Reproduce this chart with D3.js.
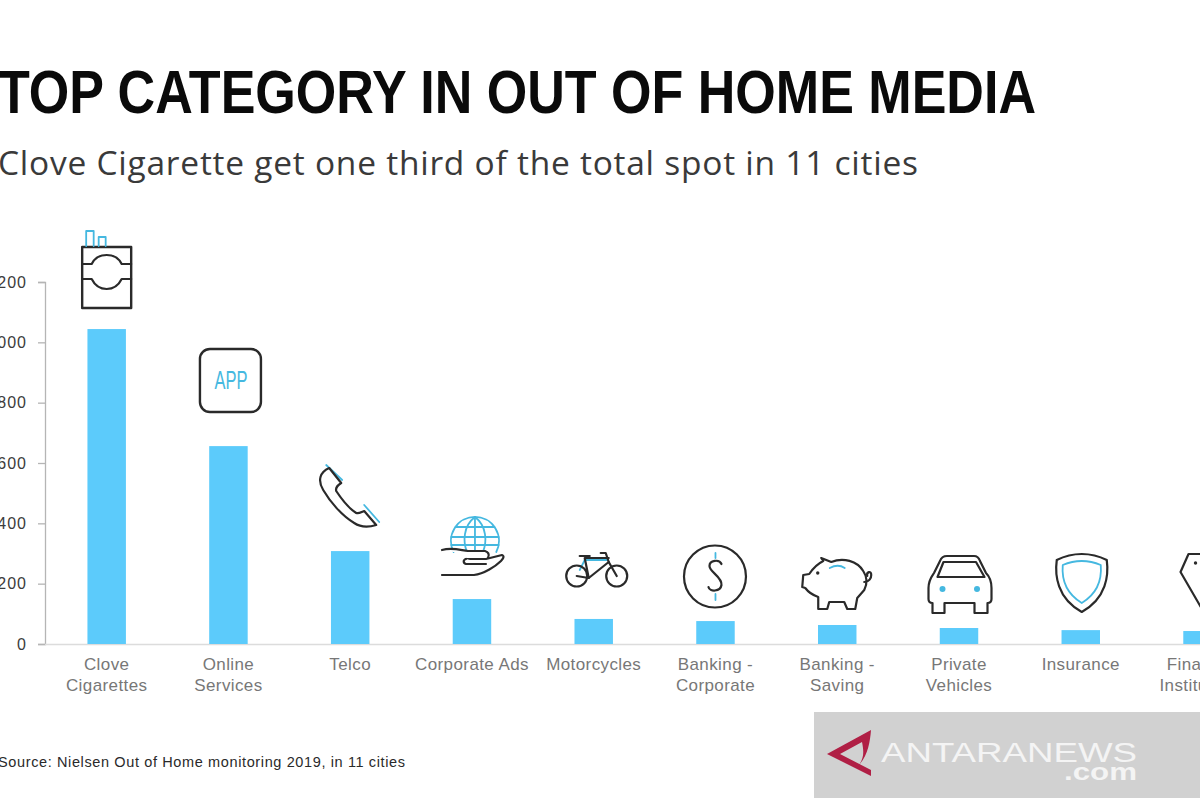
<!DOCTYPE html>
<html><head><meta charset="utf-8">
<script src="https://cdn.jsdelivr.net/npm/d3@7"></script>
<style>html,body{margin:0;padding:0;background:#fff;overflow:hidden}svg{display:block}</style>
</head><body><svg id="c" width="1200" height="800"></svg>
<script>
const titleText = "TOP CATEGORY IN OUT OF HOME MEDIA";
const subtitleText = "Clove Cigarette get one third of the total spot in 11 cities";
const sourceText = "Source: Nielsen Out of Home monitoring 2019, in 11 cities";
const categories = ["Clove Cigarettes","Online Services","Telco","Corporate Ads","Motorcycles","Banking - Corporate","Banking - Saving","Private Vehicles","Insurance","Financial Institutions"];
const labelLines = [["Clove","Cigarettes"],["Online","Services"],["Telco"],["Corporate Ads"],["Motorcycles"],["Banking -","Corporate"],["Banking -","Saving"],["Private","Vehicles"],["Insurance"],["Financial","Institutions"]];
const values = [1044,656,308,149,83,76,63,53,46,43];
const yTicks = [0,200,400,600,800,1000,1200];

const BLUE="#5ccbfb", INK="#2a2a2a", ICONBLUE="#45b8e0";
const svg=d3.select("#c");
const x=d3.scaleBand().domain(categories).range([45.8,1263.4]).paddingInner(0.684).paddingOuter(0.342);
const y=d3.scaleLinear().domain([0,1200]).range([644,282]);
const cx=c=>x(c)+x.bandwidth()/2;

svg.append("text").attr("x",-2).attr("y",113).attr("textLength",1038).attr("lengthAdjust","spacingAndGlyphs")
 .attr("font-family","'Liberation Sans Narrow','Liberation Sans',sans-serif").attr("font-weight",700).attr("font-size",61).attr("fill","#0a0a0a").text(titleText);
svg.append("text").attr("x",-2).attr("y",175).attr("textLength",920).attr("lengthAdjust","spacing")
 .attr("font-family","'Open Sans',sans-serif").attr("font-size",33.5).attr("fill","#3a3a3a").text(subtitleText);

// axes
const gy=svg.append("g").attr("transform","translate(45,0)").call(d3.axisLeft(y).tickValues(yTicks).tickSize(7).tickPadding(11).tickFormat(d3.format("d")));
gy.selectAll("path,line").attr("stroke","#b5b5b5").attr("stroke-width",1.3);
gy.selectAll("text").attr("font-family","'Liberation Sans',sans-serif").attr("font-size",16).attr("letter-spacing",1).attr("fill","#3c3c3c");

const gx=svg.append("g").attr("transform","translate(0,644)").call(d3.axisBottom(x).tickSize(0).tickFormat(""));
gx.select("path").attr("d","M45,0.5H1200").attr("stroke","#dcdcdc").attr("stroke-width",1.3);

// bars
svg.append("g").selectAll("rect").data(categories).join("rect")
 .attr("x",d=>x(d)).attr("width",x.bandwidth()).attr("y",(d,i)=>y(values[i])).attr("height",(d,i)=>y(0)-y(values[i])).attr("fill",BLUE);

// category labels
const lab=svg.append("g").attr("font-family","'Liberation Sans',sans-serif").attr("font-size",17).attr("letter-spacing",0.4).attr("fill","#777").attr("text-anchor","middle");
categories.forEach((c,i)=>{
  const t=lab.append("text");
  labelLines[i].forEach((l,j)=>t.append("tspan").attr("x",cx(c)).attr("y",670+j*21).text(l));
});

// icons: local x is relative to the bar centre, y is page-level
const icons=[
 {k:[["rect",{x:-24.5,y:247,width:49,height:61,r:0}]],
  p:["M-24.5,264H-15C-12,258 -7,255 0,255C7,255 12,258 15,264H24.5","M-24.5,279H-15C-12,285 -7,289 0,289C7,289 12,285 15,279H24.5"],
  b:["M-20.5,246V231H-13V246","M-8,246V237H-1V246"]},
 {k:[["rect",{x:-28.5,y:349,width:61,height:63,r:10}]],t:["APP",2.5,389]},
 {p:["M-21,468C-30,472 -33,480 -27,490C-20,502 -8,516 4,523C10,527 16,528 26,525L14,511C11,512 9,514 6,513C-2,508 -8,500 -14,491C-15,487 -12,485 -9,483Z"],
  b:["M-24,465L-8,480","M14,505L29,522"]},
 {p:["M-30,550C-20,547 -12,550 -4,551H13C16,552 18,554 16,558","M-6,559H14L30,555C33,556 31,559 29,561C24,566 12,574 2,575H-30","M-6,559C-9,560 -9,563 -6,564H14"],
  b:["M-18.3,552A24,24 0 1 1 24.3,552","M3,517C-9,526 -9,542 -5,552","M3,517C15,526 15,542 11,552","M3,517V552","M-16.5,527H22.5","M-20.7,537H26.7","M-20.7,545H26.7"]},
 {circ:[[-17,576,10.5],[23,576,10.5]],p:["M-17,576L-5,578L15,562L23,576","M-5,578L-9,558H15","M15,562L12,553H7","M-14,556H-4"],b:["M-9,560L-14,570","M-9,560H13"]},
 {circ:[[-0.5,576.5,31]],p:["M6,564C4,559 -6,560 -6,566C-6,572 7,577 6,585C5,592 -6,592 -7,587"],b:["M0,553V558","M0,594V600"]},
 {p:["M-34,575L-28,574C-24,568 -20,564 -14,561L-16,558L-6,562C6,557 20,561 26,571C30,577 30,584 27,590L20,598L18,609H10L7,602H-8L-10,609H-19L-19,597C-25,595 -29,592 -32,588L-35,587Z","M27,582C32,582 34,578 34,575C34,570 29,572 30,576"],
  b:["M-7.5,568C-2,565 3,565 7.5,568"],dot:[[-19.5,573,1.7,INK]]},
 {p:["M-30.5,588C-30.5,580 -27,576 -25,573L-19,561C-18,558 -15,556 -12,556H15C18,556 20,558 21,561L27,573C30,576 32.5,580 32.5,588V599C32.5,602 31,603 28.5,603V613H15.5V603H-14.5V613H-26.5V603C-29,603 -30.5,602 -30.5,599Z","M-21.5,577L-15.5,562H17L25.5,577Z"],
  dot:[[-16.5,589,3,ICONBLUE],[18,589,3,ICONBLUE]]},
 {p:["M1,554C9,554 18,556 26,560C28,575 26,598 1,612C-24,598 -26,575 -24,560C-16,556 -7,554 1,554Z"],
  b:["M1,561C8,561 13,562 20,565C21,577 19,592 1,603C-17,592 -19,577 -18,565C-11,562 -6,561 1,561Z"]},
 {p:["M-14,554L-22,572L0,610L30,570L22,554Z"],dot:[[-7,563,1.7,INK]]}
];
const ig=svg.append("g").attr("fill","none").attr("stroke-linejoin","round").attr("stroke-linecap","round");
categories.forEach((c,i)=>{
  const ic=icons[i], g=ig.append("g").attr("transform",`translate(${cx(c)},0)`);
  (ic.k||[]).forEach(r=>g.append("rect").attr("x",r[1].x).attr("y",r[1].y).attr("width",r[1].width).attr("height",r[1].height).attr("rx",r[1].r).attr("stroke",INK).attr("stroke-width",2.4));
  (ic.b||[]).forEach(d=>g.append("path").attr("d",d).attr("stroke",ICONBLUE).attr("stroke-width",1.8));
  (ic.circ||[]).forEach(k=>g.append("circle").attr("cx",k[0]).attr("cy",k[1]).attr("r",k[2]).attr("stroke",INK).attr("stroke-width",2.2));
  (ic.p||[]).forEach(d=>g.append("path").attr("d",d).attr("stroke",INK).attr("stroke-width",2.2).attr("fill",i==3?"#fff":"none"));
  (ic.dot||[]).forEach(k=>g.append("circle").attr("cx",k[0]).attr("cy",k[1]).attr("r",k[2]).attr("fill",k[3]));
  if(ic.t) g.append("text").attr("x",ic.t[1]-16.5).attr("y",ic.t[2]).attr("textLength",33).attr("lengthAdjust","spacingAndGlyphs").attr("font-family","'Liberation Sans Narrow','Liberation Sans',sans-serif").attr("font-size",26).attr("fill",ICONBLUE).text(ic.t[0]);
});

// source
svg.append("text").attr("x",-2).attr("y",767).attr("textLength",407).attr("lengthAdjust","spacing")
 .attr("font-family","'Liberation Sans',sans-serif").attr("font-size",14.5).attr("fill","#2a2a2a").text(sourceText);

// watermark
const w=svg.append("g");
w.append("rect").attr("x",814).attr("y",712).attr("width",386).attr("height",86).attr("fill","#d1d1d1");
w.append("path").attr("d","M871,730L827,754L871,776V770L840,754L862,742C864,752 864,758 859,765C868,755 870,742 871,730Z").attr("fill","#b01f45");
w.append("text").attr("x",881).attr("y",762).attr("textLength",256).attr("lengthAdjust","spacingAndGlyphs").attr("font-family","'Liberation Sans',sans-serif").attr("font-size",27).attr("fill","#f4f4f4").text("ANTARANEWS");
w.append("text").attr("x",1064).attr("y",780).attr("textLength",73).attr("lengthAdjust","spacingAndGlyphs").attr("font-family","'Liberation Sans',sans-serif").attr("font-weight",700).attr("font-size",23).attr("fill","#f4f4f4").text(".com");
</script></body></html>
